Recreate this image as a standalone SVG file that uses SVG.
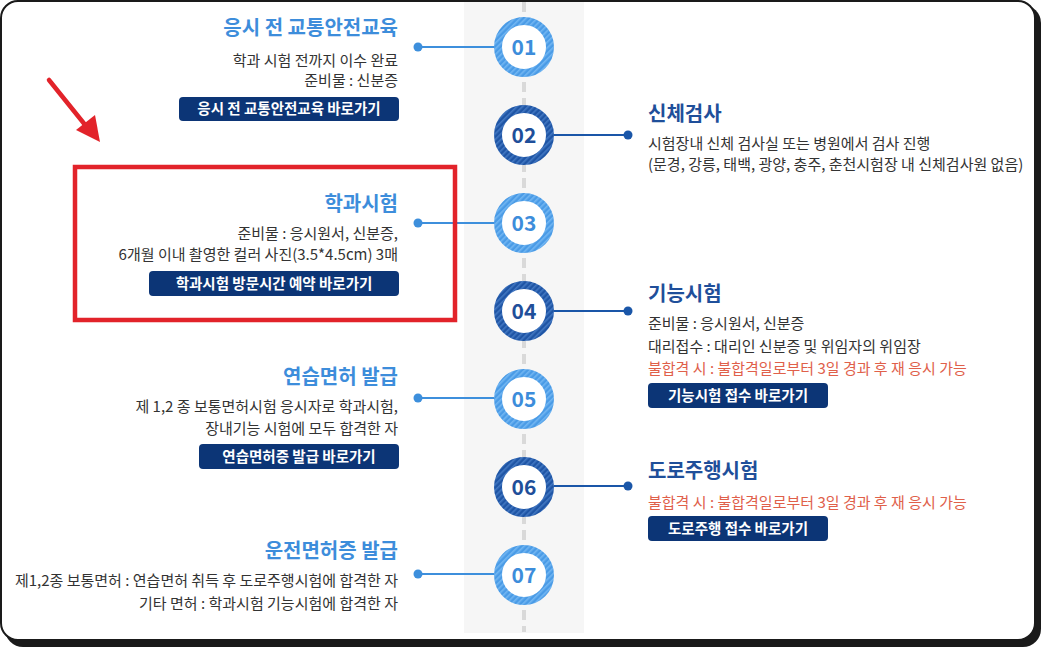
<svg xmlns="http://www.w3.org/2000/svg" width="1042" height="648" viewBox="0 0 1042 648">
<style>
.t{font-family:"Noto Sans CJK KR","Noto Sans",sans-serif}
.ttl{font-size:20px;font-weight:700}
.tl{fill:#3d8ddb}
.td{fill:#1f4f9a}
.b{font-size:15px;fill:#333}
.r{fill:#e0604a}
.btn{fill:#0c3576}
.bt{font-size:14.5px;font-weight:700;fill:#fff;text-anchor:middle}
.num{font-size:21px;font-weight:700;text-anchor:middle}
.end{text-anchor:end}
.cl{fill:#fff;stroke:url(#hl);stroke-width:8}
.cd{fill:#fff;stroke:url(#hd);stroke-width:8}
.ll{stroke:#3d8fdc;stroke-width:2}
.ld{stroke:#1a56a8;stroke-width:2}
</style>
<defs>
<pattern id="hl" width="4" height="4" patternUnits="userSpaceOnUse" patternTransform="rotate(45)"><rect width="4" height="4" fill="#4a9be6"/><rect width="1.6" height="4" fill="#72b6f2"/></pattern>
<pattern id="hd" width="4" height="4" patternUnits="userSpaceOnUse" patternTransform="rotate(45)"><rect width="4" height="4" fill="#1f55a5"/><rect width="1.6" height="4" fill="#4277c2"/></pattern>
</defs>
<rect x="5" y="5" width="1036" height="642" rx="18" fill="#1a1a1a"/>
<rect x="1" y="1" width="1034" height="639" rx="17" fill="#fff" stroke="#1a1a1a" stroke-width="2"/>
<rect x="464" y="2" width="120" height="631" fill="#f6f6f6"/>
<line x1="524" y1="2" x2="524" y2="632" stroke="#d9d9d9" stroke-width="4" stroke-dasharray="10 6"/>

<g id="connectors">
<line class="ll" x1="418" y1="47" x2="494" y2="47"/><circle cx="418" cy="47" r="4.5" fill="#3d8fdc"/>
<line class="ld" x1="554" y1="135" x2="628" y2="135"/><circle cx="628" cy="135" r="4.5" fill="#1a56a8"/>
<line class="ll" x1="418" y1="223" x2="494" y2="223"/><circle cx="418" cy="223" r="4.5" fill="#3d8fdc"/>
<line class="ld" x1="554" y1="311" x2="628" y2="311"/><circle cx="628" cy="311" r="4.5" fill="#1a56a8"/>
<line class="ll" x1="418" y1="398" x2="494" y2="398"/><circle cx="418" cy="398" r="4.5" fill="#3d8fdc"/>
<line class="ld" x1="554" y1="486" x2="628" y2="486"/><circle cx="628" cy="486" r="4.5" fill="#1a56a8"/>
<line class="ll" x1="418" y1="574" x2="494" y2="574"/><circle cx="418" cy="574" r="4.5" fill="#3d8fdc"/>
</g>

<g id="step01">
<circle class="cl" cx="524" cy="47" r="26"/>
<text class="t num tl" x="524" y="55">01</text>
<text class="t ttl tl end" x="398" y="35">응시 전 교통안전교육</text>
<text class="t b end" x="398" y="66">학과 시험 전까지 이수 완료</text>
<text class="t b end" x="398" y="86">준비물 : 신분증</text>
<rect class="btn" x="179" y="97" width="220" height="24" rx="4"/>
<text class="t bt" x="289" y="114">응시 전 교통안전교육 바로가기</text>
</g>

<g id="step02">
<circle class="cd" cx="524" cy="135" r="26"/>
<text class="t num td" x="524" y="143">02</text>
<text class="t ttl td" x="648" y="121">신체검사</text>
<text class="t b" x="648" y="149">시험장내 신체 검사실 또는 병원에서 검사 진행</text>
<text class="t b" x="648" y="170">(문경, 강릉, 태백, 광양, 충주, 춘천시험장 내 신체검사원 없음)</text>
</g>

<g id="step03">
<circle class="cl" cx="524" cy="223" r="26"/>
<text class="t num tl" x="524" y="231">03</text>
<text class="t ttl tl end" x="398" y="211">학과시험</text>
<text class="t b end" x="398" y="239">준비물 : 응시원서, 신분증,</text>
<text class="t b end" x="398" y="260">6개월 이내 촬영한 컬러 사진(3.5*4.5cm) 3매</text>
<rect class="btn" x="149" y="271" width="250" height="25" rx="4"/>
<text class="t bt" x="274" y="288.5">학과시험 방문시간 예약 바로가기</text>
</g>

<g id="step04">
<circle class="cd" cx="524" cy="311" r="26"/>
<text class="t num td" x="524" y="319">04</text>
<text class="t ttl td" x="648" y="301">기능시험</text>
<text class="t b" x="648" y="329">준비물 : 응시원서, 신분증</text>
<text class="t b" x="648" y="352">대리접수 : 대리인 신분증 및 위임자의 위임장</text>
<text class="t b r" x="648" y="374">불합격 시 : 불합격일로부터 3일 경과 후 재 응시 가능</text>
<rect class="btn" x="648" y="383" width="180" height="25" rx="4"/>
<text class="t bt" x="738" y="400.5">기능시험 접수 바로가기</text>
</g>

<g id="step05">
<circle class="cl" cx="524" cy="399" r="26"/>
<text class="t num tl" x="524" y="407">05</text>
<text class="t ttl tl end" x="398" y="384">연습면허 발급</text>
<text class="t b end" x="398" y="412">제 1,2 종 보통면허시험 응시자로 학과시험,</text>
<text class="t b end" x="398" y="434">장내기능 시험에 모두 합격한 자</text>
<rect class="btn" x="199" y="444" width="200" height="25" rx="4"/>
<text class="t bt" x="299" y="461.5">연습면허증 발급 바로가기</text>
</g>

<g id="step06">
<circle class="cd" cx="524" cy="487" r="26"/>
<text class="t num td" x="524" y="495">06</text>
<text class="t ttl td" x="648" y="478">도로주행시험</text>
<text class="t b r" x="648" y="508">불합격 시 : 불합격일로부터 3일 경과 후 재 응시 가능</text>
<rect class="btn" x="648" y="516" width="180" height="25" rx="4"/>
<text class="t bt" x="738" y="533.5">도로주행 접수 바로가기</text>
</g>

<g id="step07">
<circle class="cl" cx="524" cy="575" r="26"/>
<text class="t num tl" x="524" y="583">07</text>
<text class="t ttl tl end" x="398" y="558">운전면허증 발급</text>
<text class="t b end" x="398" y="586">제1,2종 보통면허 : 연습면허 취득 후 도로주행시험에 합격한 자</text>
<text class="t b end" x="398" y="609">기타 면허 : 학과시험 기능시험에 합격한 자</text>
</g>

<g id="highlight">
<rect x="75" y="167" width="380" height="153" fill="none" stroke="#e2232a" stroke-width="4.5"/>
<line x1="49" y1="80" x2="86" y2="126" stroke="#e2232a" stroke-width="4.5" stroke-linecap="round"/>
<polygon points="100,142 76,130 95,115" fill="#e2232a"/>
</g>
</svg>
